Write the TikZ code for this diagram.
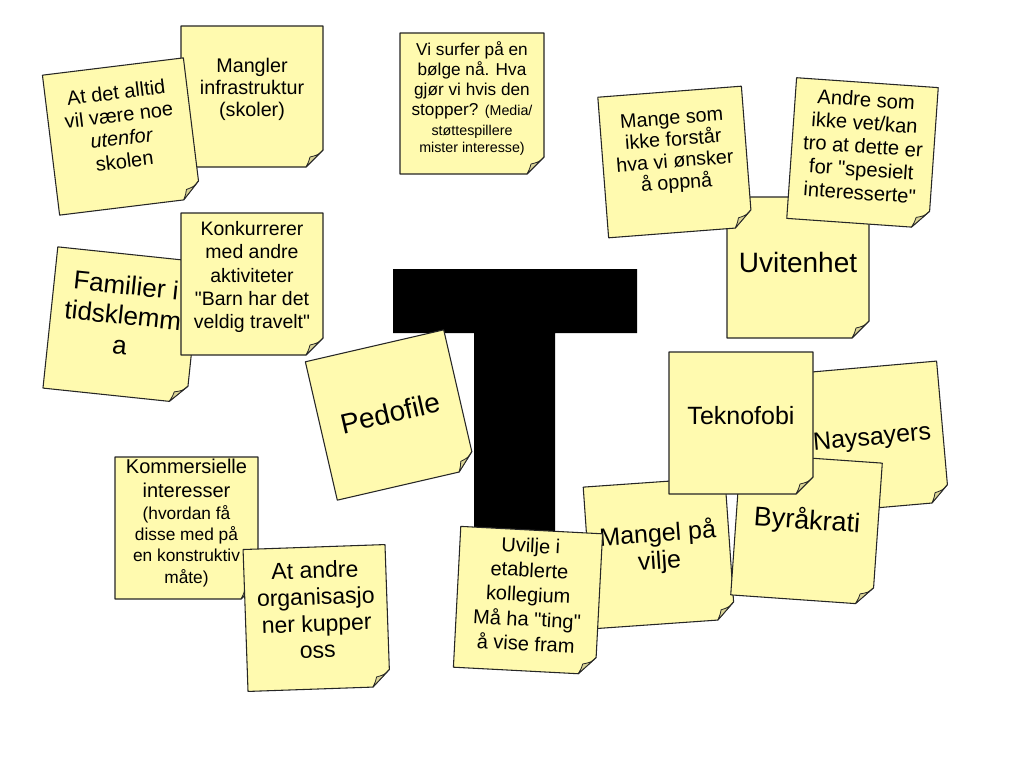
\documentclass[tikz,border=0pt]{standalone}
\usepackage{fontspec}
\setmainfont{Liberation Sans}
\definecolor{noteyellow}{RGB}{255,250,175}
\definecolor{notefoldc}{RGB}{218,212,150}
\tikzset{
  notebody/.style={draw=black!85, line width=0.8pt, fill=noteyellow, line join=round},
  notefold/.style={draw=black!85, line width=0.6pt, fill=notefoldc, line join=round},
  notetext/.style={align=center, inner sep=0pt, text=black},
  tshape/.style={fill=black, draw=none}
}
\newcommand\qq{\textquotedbl}
\newcommand\fs[2]{\fontsize{#1}{#2}\selectfont}
% #1 name, #2 cx, #3 cy (px, down), #4 angle, #5 w, #6 h, #7 text shift up, #8 font, #9 text
\newcommand\stickynote[9]{%
  \begin{scope}[shift={(#2,-#3)}, rotate=#4]
    \draw[notebody] (-#5/2,#6/2) -- (#5/2,#6/2) -- (#5/2,-#6/2+17) -- (#5/2-17,-#6/2) -- (-#5/2,-#6/2) -- cycle;
    \draw[notefold] (#5/2,-#6/2+17) .. controls (#5/2-5,-#6/2+12) .. (#5/2-13,-#6/2+10) .. controls (#5/2-14,-#6/2+6) .. (#5/2-17,-#6/2) -- cycle;
    \node[notetext, rotate=#4, font={#8}] (#1) at (0,#7) {#9};
  \end{scope}}
\begin{document}
\begin{tikzpicture}[x=0.75pt, y=0.75pt]
\fill[white] (0,0) rectangle (1024,-767);
\useasboundingbox (0,0) rectangle (1024,-767);

\stickynote{mangler}{252}{96.5}{0}{142}{141}{7}{\fs{14.8}{16.5}}{Mangler\\infrastruktur\\(skoler)}
\stickynote{atdet}{121.5}{136.5}{7}{142}{141}{10}{\fs{15}{17.3}}{At det alltid\\vil være noe\\\textit{utenfor}\\skolen}
\stickynote{surfer}{472}{103.5}{0}{144}{141}{5}{\fs{12.9}{15}}{Vi surfer på en\\bølge nå. Hva\\gjør vi hvis den\\stopper? {\fs{10.7}{15}(Media/}\\\fs{10.7}{15}støttespillere\\[-2.2pt]\fs{10.7}{15}mister interesse)}
\stickynote{uvitenhet}{798}{267.5}{0}{142}{141}{5.5}{\fs{21}{24}}{Uvitenhet}
\stickynote{mange}{675}{162}{4.4}{144}{141}{10}{\fs{14.8}{16.2}}{Mange som\\ikke forstår\\hva vi ønsker\\å oppnå}
\stickynote{andre}{862.5}{153}{-4}{142}{141}{7}{\fs{15.1}{17.5}}{Andre som\\ikke vet/kan\\tro at dette er\\for \qq spesielt\\interesserte\qq}
\stickynote{familier}{122}{325}{-6}{144}{142}{10}{\fs{19.5}{22.5}}{Familier i\\tidsklemm\\a}
\stickynote{konk}{252}{284}{0}{142}{142}{7}{\fs{14.6}{17.5}}{Konkurrerer\\med andre\\aktiviteter\\\qq Barn har det\\veldig travelt\qq}

\fill[tshape] (393,-269) -- (637,-269) -- (637,-333) -- (555,-333) -- (555,-532) -- (474,-532) -- (474,-333) -- (393,-333) -- cycle;

\stickynote{pedofile}{390.5}{415}{13}{142}{142}{2}{\fs{21}{24}}{Pedofile}
\stickynote{kommersielle}{186.5}{528}{0}{143}{142}{5}{\fs{15}{16}}{Kommersielle\\[2pt]interesser\\\fs{13}{16}(hvordan få\\\fs{13}{16}disse med på\\\fs{13}{16}en konstruktiv\\\fs{13}{16}måte)}
\stickynote{atandre}{316.5}{618}{2}{142}{142}{8}{\fs{17.25}{20}}{At andre\\organisasjo\\ner kupper\\oss}
\stickynote{naysayers}{872}{437.5}{5}{142}{141}{-1.5}{\fs{18.75}{22}}{Naysayers}
\stickynote{mangel}{659}{553}{4}{142}{142}{5}{\fs{18.75}{20.25}}{Mangel på\\vilje}
\stickynote{byrakrati}{806.5}{529}{-4}{142}{142}{8}{\fs{20.25}{23}}{Byråkrati}
\stickynote{teknofobi}{741}{423}{0}{144}{142}{7}{\fs{18.75}{22}}{Teknofobi}
\stickynote{uvilje}{528}{600.5}{-3}{142}{141}{6}{\fs{15}{18.4}}{Uvilje i\\etablerte\\kollegium\\Må ha \qq ting\qq\\å vise fram}
\end{tikzpicture}
\end{document}
